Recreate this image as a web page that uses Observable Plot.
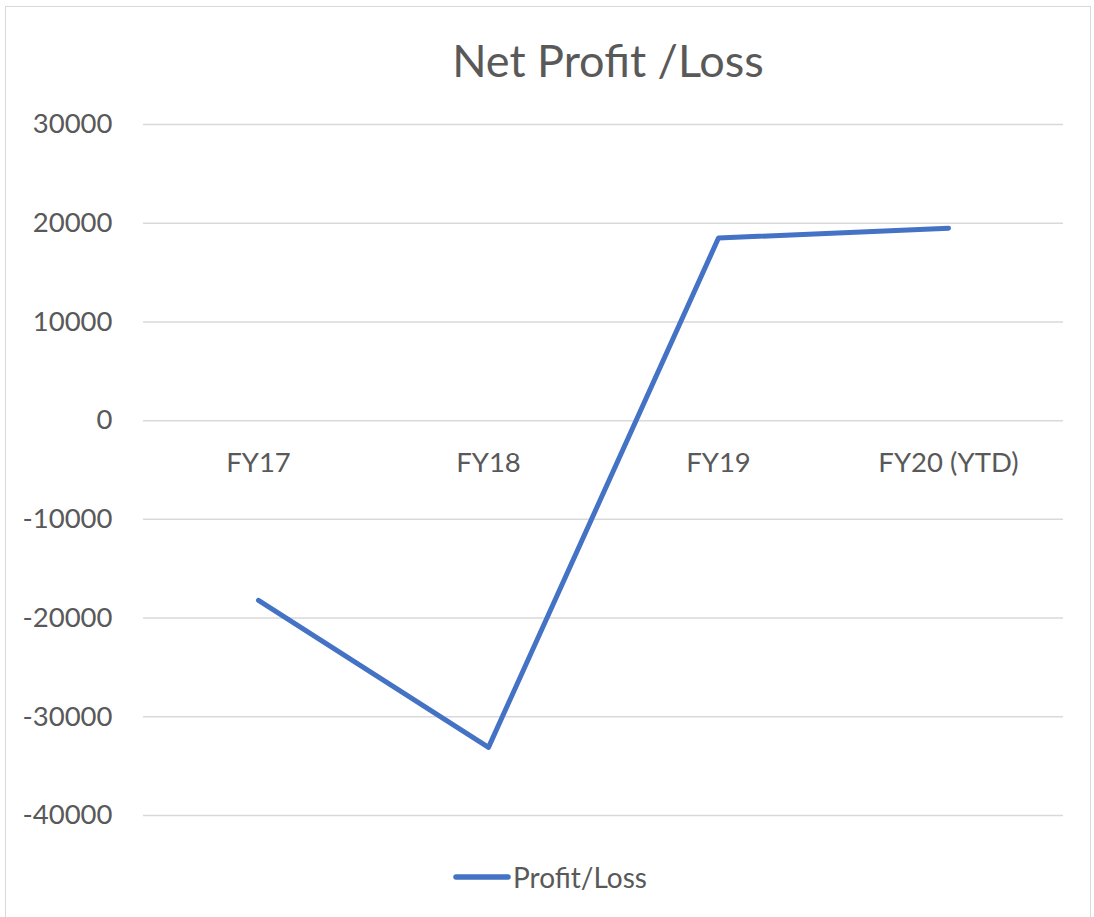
<!DOCTYPE html>
<html>
<head>
<meta charset="utf-8">
<script src="https://cdn.jsdelivr.net/npm/d3@7"></script>
<script src="https://cdn.jsdelivr.net/npm/@observablehq/plot@0.6"></script>
<style>
  html, body { margin: 0; padding: 0; background: #fff; width: 1094px; height: 917px; overflow: hidden; }
  body { font-family: Lato, "Open Sans", sans-serif; color: #595959; position: relative; }
  #frame { position: absolute; left: 5px; top: 6px; width: 1086px; height: 1000px; border: 1px solid #d9d9d9; box-sizing: border-box; pointer-events: none; }
  #title { position: absolute; left: 0; top: 0; width: 1094px; height: 100px; }
  #title span { position: absolute; left: 608px; top: 60px; transform: translate(-50%, -50%); font-size: 45px; white-space: nowrap; }
  #chart { position: absolute; left: 0; top: 100px; }
  #legend { position: absolute; left: 0; top: 840px; width: 1094px; height: 77px; }
</style>
</head>
<body>
<div id="title"><span>Net Profit /Loss</span></div>
<div id="chart"></div>
<div id="legend"></div>
<div id="frame"></div>
<script>
const categories = ["FY17", "FY18", "FY19", "FY20 (YTD)"];
const profitLoss = [-18200, -33100, 18500, 19500];
const yTicks = [-40000, -30000, -20000, -10000, 0, 10000, 20000, 30000];
const seriesName = "Profit/Loss";

const data = categories.map((c, i) => ({category: c, value: profitLoss[i]}));
const lineColor = "#4472C4";

const plot = Plot.plot({
  width: 1094,
  height: 740,
  marginLeft: 143,
  marginRight: 31,
  marginTop: 24,
  marginBottom: 25,
  style: {fontFamily: "Lato, 'Open Sans', sans-serif", color: "#595959", background: "white"},
  x: {type: "point", domain: categories, padding: 0.5, axis: null},
  y: {domain: [-40000, 30000], ticks: yTicks, label: null},
  marks: [
    Plot.ruleY(yTicks, {stroke: "#d9d9d9", strokeWidth: 1.5}),
    Plot.axisY(yTicks, {tickSize: 0, tickPadding: 31, fontSize: 27.5, tickFormat: d => String(d), label: null, fill: "#595959"}),
    Plot.text(data, {x: "category", y: () => 0, text: "category", dy: 43, fontSize: 27.5, fill: "#595959"}),
    Plot.line(data, {x: "category", y: "value", stroke: lineColor, strokeWidth: 5, strokeLinejoin: "round", strokeLinecap: "round"})
  ]
});
document.getElementById("chart").appendChild(plot);

// Legend
const leg = document.getElementById("legend");
const svgNS = "http://www.w3.org/2000/svg";
const ls = document.createElementNS(svgNS, "svg");
ls.setAttribute("width", 1094); ls.setAttribute("height", 77);
const ln = document.createElementNS(svgNS, "line");
ln.setAttribute("x1", 456); ln.setAttribute("x2", 508);
ln.setAttribute("y1", 37); ln.setAttribute("y2", 37);
ln.setAttribute("stroke", lineColor); ln.setAttribute("stroke-width", 5.5); ln.setAttribute("stroke-linecap", "round");
ls.appendChild(ln);
const tx = document.createElementNS(svgNS, "text");
tx.setAttribute("x", 513); tx.setAttribute("y", 37);
tx.setAttribute("dominant-baseline", "central");
tx.setAttribute("font-size", 28); tx.setAttribute("fill", "#595959");
tx.setAttribute("font-family", "Lato, 'Open Sans', sans-serif");
tx.textContent = seriesName;
ls.appendChild(tx);
leg.appendChild(ls);
</script>
</body>
</html>
